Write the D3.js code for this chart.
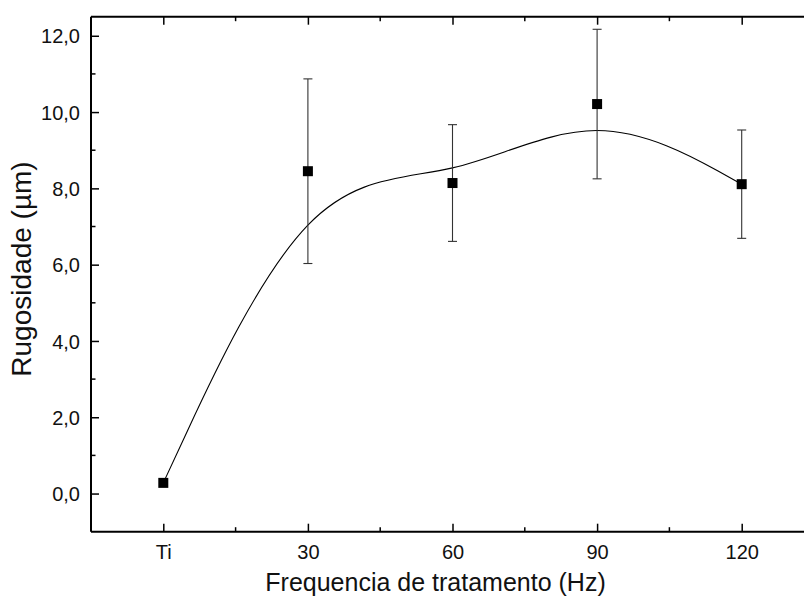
<!DOCTYPE html>
<html>
<head>
<meta charset="utf-8">
<script src="https://cdn.jsdelivr.net/npm/d3@7"></script>
<style>
  html, body { margin: 0; padding: 0; background: #fff; }
  svg { display: block; font-family: "Liberation Sans", Arial, sans-serif; }
</style>
</head>
<body>
<svg id="chart" width="804" height="597"></svg>
<script>
// Surface roughness by treatment frequency (mean ± deviation)
const freqLabels   = ["Ti", "30", "60", "90", "120"];
const freqValues   = [0, 30, 60, 90, 120];
const roughness    = [0.28, 8.45, 8.14, 10.21, 8.11];
const roughnessErr = [0, 2.42, 1.53, 1.96, 1.42];
const yMajorTicks  = [0, 2, 4, 6, 8, 10, 12];
const yMinorTicks  = [1, 3, 5, 7, 9, 11];
const xMinorTicks  = [15, 45, 75, 105];

(function () {
  const points = freqValues.map((f, i) => ({
    f, label: freqLabels[i], v: roughness[i], e: roughnessErr[i]
  }));

  const svg = d3.select("#chart");
  const pLeft = 91, pRight = 814, pTop = 16.7, pBottom = 531.7;

  const x = d3.scaleLinear().domain([-15, 135]).range([pLeft, pRight]);
  const y = d3.scaleLinear().domain([-1, 12.5]).range([pBottom, pTop]);

  const comma = d3.formatLocale({ decimal: ",", thousands: ".", grouping: [3], currency: ["", ""] });
  const fmtY = comma.format(".1f");
  const labelOf = v => freqLabels[freqValues.indexOf(v)];

  const g = svg.append("g");

  // Bottom axis with category labels
  const xAxis = g.append("g").attr("transform", `translate(0,${pBottom})`)
    .call(d3.axisBottom(x).tickValues(freqValues).tickSize(-8).tickPadding(13).tickFormat(labelOf));
  xAxis.append("g").selectAll("line").data(xMinorTicks).join("line")
    .attr("x1", d => x(d)).attr("x2", d => x(d)).attr("y1", 0).attr("y2", -4.5);

  // Top axis: ticks only
  const xTop = g.append("g").attr("transform", `translate(0,${pTop})`)
    .call(d3.axisTop(x).tickValues(freqValues).tickSize(-8).tickFormat(""));
  xTop.append("g").selectAll("line").data(xMinorTicks).join("line")
    .attr("x1", d => x(d)).attr("x2", d => x(d)).attr("y1", 0).attr("y2", 4.5);

  // Left axis
  const yAxis = g.append("g").attr("transform", `translate(${pLeft},0)`)
    .call(d3.axisLeft(y).tickValues(yMajorTicks).tickSize(-8).tickPadding(11).tickFormat(fmtY));
  yAxis.append("g").selectAll("line").data(yMinorTicks).join("line")
    .attr("y1", d => y(d)).attr("y2", d => y(d)).attr("x1", 0).attr("x2", 4.5);

  // Right axis (ticks only)
  g.append("g").attr("transform", `translate(${pRight},0)`)
    .call(d3.axisRight(y).tickValues(yMajorTicks).tickSize(-8).tickFormat(""));

  // Frame lines span the full plot area
  xAxis.select(".domain").attr("d", `M${pLeft},0H${pRight}`);
  xTop.select(".domain").attr("d", `M${pLeft},0H${pRight}`);
  yAxis.select(".domain").attr("d", `M0,${pTop}V${pBottom}`);

  g.selectAll(".domain").attr("stroke", "#000").attr("stroke-width", 2);
  g.selectAll("line").attr("stroke", "#000").attr("stroke-width", 1.5);
  g.selectAll(".tick text").attr("fill", "#111").style("font-size", "20px")
    .style("font-family", "'Liberation Sans', Arial, sans-serif");
  yAxis.selectAll(".tick text").attr("dy", "0.36em");

  // Smoothed trend through the means
  svg.append("path")
    .datum(points)
    .attr("fill", "none").attr("stroke", "#000").attr("stroke-width", 1.1)
    .attr("d", d3.line().x(d => x(d.f)).y(d => y(d.v)).curve(d3.curveBasis));

  // Error bars
  const eb = svg.append("g").attr("stroke", "#333").attr("stroke-width", 1.1);
  const withErr = points.filter(d => d.e > 0);
  eb.selectAll("line.v").data(withErr).join("line").attr("class", "v")
    .attr("x1", d => x(d.f)).attr("x2", d => x(d.f))
    .attr("y1", d => y(d.v + d.e)).attr("y2", d => y(d.v - d.e));
  eb.selectAll("line.t").data(withErr).join("line").attr("class", "t")
    .attr("x1", d => x(d.f) - 4.5).attr("x2", d => x(d.f) + 4.5)
    .attr("y1", d => y(d.v + d.e)).attr("y2", d => y(d.v + d.e));
  eb.selectAll("line.b").data(withErr).join("line").attr("class", "b")
    .attr("x1", d => x(d.f) - 4.5).attr("x2", d => x(d.f) + 4.5)
    .attr("y1", d => y(d.v - d.e)).attr("y2", d => y(d.v - d.e));

  // Square markers
  svg.append("g").selectAll("rect").data(points).join("rect")
    .attr("x", d => x(d.f) - 5).attr("y", d => y(d.v) - 5)
    .attr("width", 10).attr("height", 10).attr("fill", "#000");

  // Axis titles
  svg.append("text")
    .attr("x", 435.5).attr("y", 591).attr("text-anchor", "middle")
    .style("font-size", "25px").attr("fill", "#111")
    .text("Frequencia de tratamento (Hz)");
  svg.append("text")
    .attr("transform", `translate(31,269) rotate(-90)`)
    .attr("text-anchor", "middle")
    .style("font-size", "28px").attr("fill", "#111")
    .text("Rugosidade (µm)");
})();
</script>
</body>
</html>
